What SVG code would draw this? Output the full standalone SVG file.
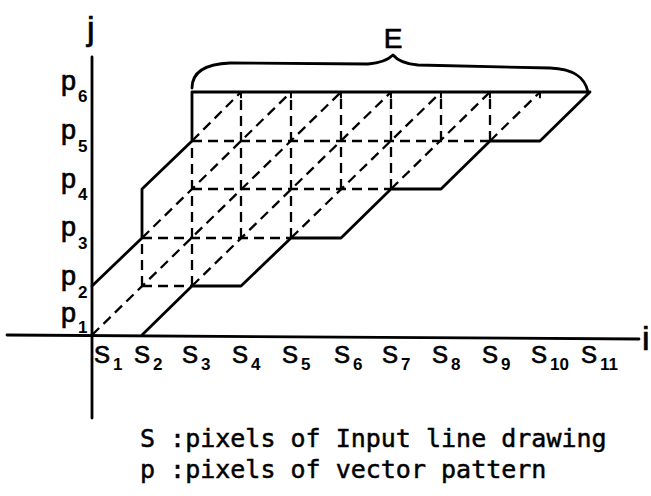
<svg xmlns="http://www.w3.org/2000/svg" width="651" height="496" viewBox="0 0 651 496">
<style>
.solid{fill:none;stroke:#000;stroke-width:2.8;stroke-linejoin:round;stroke-linecap:round}
.dash{fill:none;stroke:#000;stroke-width:2.3;stroke-dasharray:10 6}
.vec{fill:none;stroke:#000;stroke-width:2.3;stroke-dasharray:10 6;marker-end:url(#ah)}
.lab{font-family:"Liberation Sans",Arial,sans-serif;fill:#000;stroke:#000;stroke-width:0.7}
.sub{font-family:"Liberation Sans",Arial,sans-serif;font-weight:bold;font-size:17px;fill:#000}
.note{font-family:"DejaVu Sans Mono","Liberation Mono",monospace;font-size:25px;fill:#000;stroke:#000;stroke-width:0.5}
</style>
<defs>
<marker id="ah" markerUnits="userSpaceOnUse" markerWidth="12" markerHeight="12" refX="0" refY="0" viewBox="-7 -6 8 12" orient="auto">
<path d="M-4.5,-4.5 L0,0 L-4.5,4.5" fill="none" stroke="#000" stroke-width="2"/>
</marker>
</defs>
<rect width="651" height="496" fill="#fff"/>
<g id="axes">
<line class="solid" x1="92" y1="57" x2="92" y2="418"/>
<line class="solid" x1="7" y1="335" x2="639" y2="339"/>
<text class="lab" x="87" y="40" font-size="34">j</text>
<text class="lab" x="642" y="350" font-size="34">i</text>
</g>
<g id="outline">
<polyline class="solid" points="92,286 142,238 142,189 192,141 192,92 590,92 540,141 490,141 441,189 391,189 341,238 291,238 241,286 192,286 142,335"/>
</g>
<g id="grid">
<line class="dash" x1="142" y1="286" x2="192" y2="286"/>
<line class="dash" x1="142" y1="238" x2="291" y2="238"/>
<line class="dash" x1="192" y1="189" x2="391" y2="189"/>
<line class="dash" x1="192" y1="141" x2="490" y2="141"/>
<line class="dash" x1="142" y1="286" x2="142" y2="238"/>
<line class="dash" x1="192" y1="286" x2="192" y2="141"/>
<line class="dash" x1="241" y1="238" x2="241" y2="92"/>
<line class="dash" x1="291" y1="238" x2="291" y2="92"/>
<line class="dash" x1="341" y1="189" x2="341" y2="92"/>
<line class="dash" x1="391" y1="189" x2="391" y2="92"/>
<line class="dash" x1="441" y1="141" x2="441" y2="92"/>
<line class="dash" x1="490" y1="141" x2="490" y2="92"/>
</g>
<g id="vectors">
<line class="vec" x1="192" y1="141" x2="241" y2="92"/>
<line class="vec" x1="142" y1="238" x2="291" y2="92"/>
<line class="vec" x1="92" y1="335" x2="341" y2="92"/>
<line class="vec" x1="192" y1="286" x2="391" y2="92"/>
<line class="vec" x1="291" y1="238" x2="441" y2="92"/>
<line class="vec" x1="391" y1="189" x2="490" y2="92"/>
<line class="vec" x1="490" y1="141" x2="540" y2="92"/>
</g>
<g id="brace">
<path class="solid" d="M192,88 C192,72 205,64 230,63 L368,64 C380,63 388,60 393,55 C398,61 405,64 418,65 L550,68 C575,69 585,78 588,92"/>
<text class="lab" x="393" y="48" font-size="28" text-anchor="middle">E</text>
</g>
<g id="p-labels">
<text class="lab" x="61" y="90" font-size="27">p</text><text class="sub" x="78" y="102">6</text>
<text class="lab" x="61" y="139" font-size="27">p</text><text class="sub" x="78" y="152">5</text>
<text class="lab" x="61" y="188" font-size="27">p</text><text class="sub" x="78" y="200">4</text>
<text class="lab" x="61" y="236" font-size="27">p</text><text class="sub" x="78" y="249">3</text>
<text class="lab" x="61" y="285" font-size="27">p</text><text class="sub" x="78" y="298">2</text>
<text class="lab" x="61" y="322" font-size="27">p</text><text class="sub" x="78" y="333">1</text>
</g>
<g id="s-labels">
<text class="lab" x="94" y="363" font-size="24">S</text><text class="sub" x="113" y="370">1</text>
<text class="lab" x="134" y="363" font-size="24">S</text><text class="sub" x="153" y="370">2</text>
<text class="lab" x="182" y="363" font-size="24">S</text><text class="sub" x="201" y="370">3</text>
<text class="lab" x="232" y="363" font-size="24">S</text><text class="sub" x="251" y="370">4</text>
<text class="lab" x="282" y="363" font-size="24">S</text><text class="sub" x="301" y="370">5</text>
<text class="lab" x="334" y="363" font-size="24">S</text><text class="sub" x="353" y="370">6</text>
<text class="lab" x="382" y="363" font-size="24">S</text><text class="sub" x="401" y="370">7</text>
<text class="lab" x="432" y="363" font-size="24">S</text><text class="sub" x="451" y="370">8</text>
<text class="lab" x="482" y="363" font-size="24">S</text><text class="sub" x="501" y="370">9</text>
<text class="lab" x="531" y="363" font-size="24">S</text><text class="sub" x="550" y="370">10</text>
<text class="lab" x="581" y="363" font-size="24">S</text><text class="sub" x="600" y="370">11</text>
</g>
<g id="legend">
<text class="note" x="140" y="447">S :pixels of Input line drawing</text>
<text class="note" x="140" y="478">p :pixels of vector pattern</text>
</g>
</svg>
